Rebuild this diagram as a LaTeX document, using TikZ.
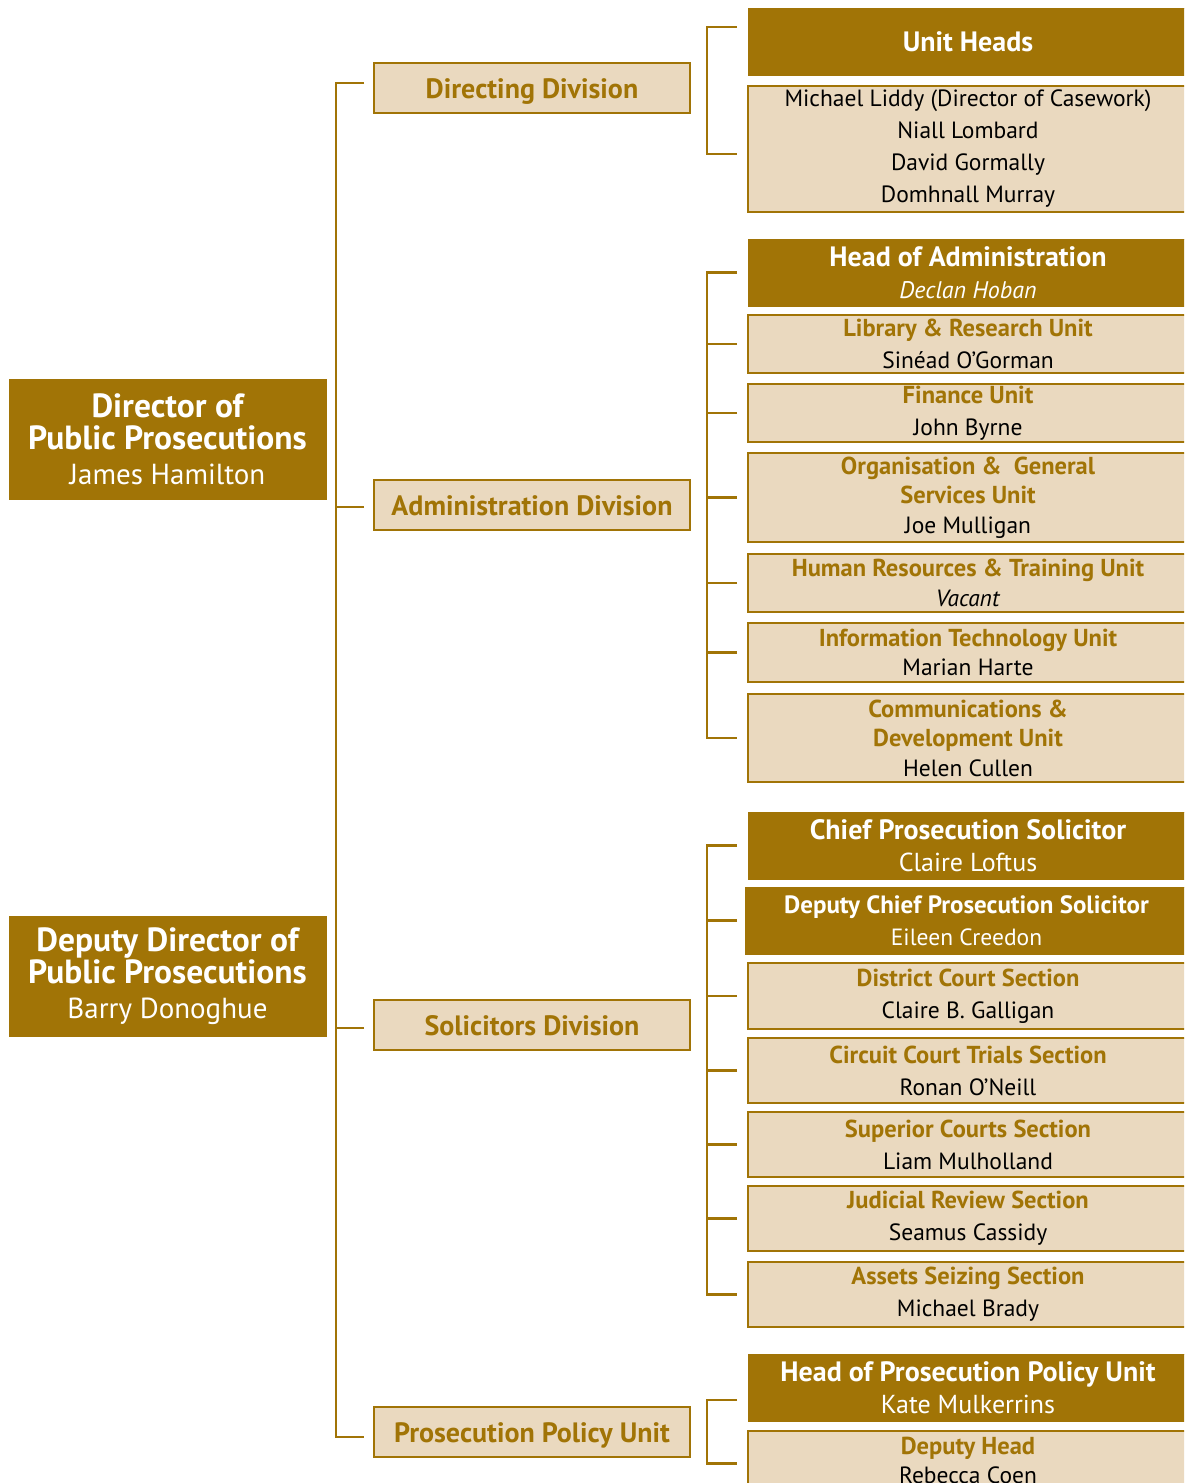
\documentclass[tikz,border=0pt]{standalone}
\usepackage{fontspec}
\setmainfont{PT Sans}
\usetikzlibrary{positioning}
\definecolor{dpgold}{HTML}{A17406}
\definecolor{dpsand}{HTML}{EAD9BF}
\tikzset{
  headbox/.style = {rectangle, fill=dpgold, draw=dpgold, text=white, line width=1pt,
                    align=center, inner sep=0pt, outer sep=0pt, minimum width=440pt,
                    font=\fontsize{26pt}{32pt}\selectfont},
  bigbox/.style  = {headbox, minimum width=317pt, minimum height=120pt,
                    font=\fontsize{29pt}{32pt}\selectfont},
  divbox/.style  = {rectangle, fill=dpsand, draw=dpgold, line width=2.5pt,
                    minimum width=316pt, minimum height=50pt, inner sep=0pt, outer sep=0pt,
                    text height=23pt, text depth=3pt,
                    text=dpgold, font=\fontsize{28pt}{30pt}\selectfont\bfseries},
  unitbox/.style = {rectangle, fill=dpsand, draw=dpgold, line width=2.5pt, align=center,
                    minimum width=440pt, inner sep=0pt, outer sep=0pt,
                    font=\fontsize{23.5pt}{32pt}\selectfont},
  tallbox/.style = {unitbox, font=\fontsize{23.5pt}{29.5pt}\selectfont},
  ln/.style      = {draw=dpgold, line width=2.5pt}
}
\newcommand{\ut}[1]{{\fontsize{24.5pt}{32pt}\selectfont\bfseries\color{dpgold}#1}}
\newcommand{\hdt}[1]{{\fontsize{28pt}{32pt}\selectfont\bfseries #1}}
\newcommand{\bt}[1]{{\fontsize{33.5pt}{32pt}\selectfont\bfseries #1}}

\begin{document}
\begin{tikzpicture}[x=1pt, y=-1pt]
    \useasboundingbox (0,0) rectangle (1184,1483);
    \clip (0,0) rectangle (1184,1483);
    % directors
    \node[bigbox] (dpp) at (167.5,439) {\bt{Director of}\\\bt{Public Prosecutions}\\[3pt]James Hamilton};
    \node[bigbox] (ddpp) at (167.5,976) {\bt{Deputy Director of}\\\bt{Public Prosecutions}\\[3pt]Barry Donoghue};
    % divisions
    \node[divbox] (dirdiv) at (532,88) {Directing Division};
    \node[divbox] (admdiv) at (532,505) {Administration Division};
    \node[divbox] (soldiv) at (532,1025) {Solicitors Division};
    \node[divbox] (poldiv) at (532,1432) {Prosecution Policy Unit};
    % directing division
    \node[headbox, minimum height=67pt] (uh) at (968,41.5) {\hdt{Unit Heads}};
    \node[unitbox, minimum height=126pt] (uhn) at (968,149) {Michael Liddy (Director of Casework)\\Niall Lombard\\David Gormally\\Domhnall Murray};
    % administration division
    \node[headbox, minimum height=67pt] (ha) at (968,272.5) {\hdt{Head of Administration}\\{\fontsize{24pt}{32pt}\selectfont\itshape Declan Hoban}};
    \node[unitbox, minimum height=58pt] (lib) at (968,344) {\ut{Library \& Research Unit}\\Sinéad O’Gorman};
    \node[unitbox, minimum height=58pt] (fin) at (968,413) {\ut{Finance Unit}\\John Byrne};
    \node[tallbox, minimum height=89pt] (org) at (968,497.5) {\ut{Organisation \& \ General}\\\ut{Services Unit}\\Joe Mulligan};
    \node[tallbox, minimum height=58pt] (hr) at (968,583) {\ut{Human Resources \& Training Unit}\\\textit{Vacant}};
    \node[tallbox, minimum height=59pt] (it) at (968,652.5) {\ut{Information Technology Unit}\\Marian Harte};
    \node[tallbox, minimum height=88pt] (com) at (968,738) {\ut{Communications \&}\\\ut{Development Unit}\\Helen Cullen};
    % solicitors division
    \node[headbox, minimum height=67pt] (cps) at (968,845.5) {\hdt{Chief Prosecution Solicitor}\\Claire Loftus};
    \node[headbox, minimum height=67pt, minimum width=443pt, font=\fontsize{23.5pt}{32pt}\selectfont] (dcps) at (966.5,920.5) {\textbf{\fontsize{25pt}{32pt}\selectfont Deputy Chief Prosecution Solicitor}\\Eileen Creedon};
    \node[unitbox, minimum height=66pt] (dcs) at (968,996) {\ut{District Court Section}\\Claire B.\ Galligan};
    \node[unitbox, minimum height=65pt] (cct) at (968,1070.5) {\ut{Circuit Court Trials Section}\\Ronan O’Neill};
    \node[unitbox, minimum height=65pt] (scs) at (968,1144.5) {\ut{Superior Courts Section}\\Liam Mulholland};
    \node[unitbox, minimum height=65pt] (jrs) at (968,1218.5) {\ut{Judicial Review Section}\\Seamus Cassidy};
    \node[unitbox, minimum height=65pt] (ass) at (968,1294.5) {\ut{Assets Seizing Section}\\Michael Brady};
    % prosecution policy unit
    \node[headbox, minimum height=67pt] (hpp) at (968,1387.5) {\hdt{Head of Prosecution Policy Unit}\\Kate Mulkerrins};
    \node[tallbox, minimum height=59pt] (dh) at (968,1460.5) {\ut{Deputy Head}\\Rebecca Coen};
    % brackets
    \draw[ln] ([xshift=-10pt,yshift=5pt]dirdiv.west) -| ([xshift=-38pt,yshift=-5pt]poldiv.west) -- ([xshift=-10pt,yshift=-5pt]poldiv.west);
    \draw[ln] ([xshift=-10pt,yshift=-2pt]admdiv.west) -- ++(-28,0);
    \draw[ln] ([xshift=-10pt,yshift=-3pt]soldiv.west) -- ++(-28,0);
    \draw[ln] ([xshift=-11pt,yshift=14.5pt]uh.west) -| ([xshift=-41pt,yshift=-5pt]uhn.west) -- ([xshift=-11pt,yshift=-5pt]uhn.west);
    \draw[ln] ([xshift=-11pt]ha.west) -| ([xshift=-41pt]com.west) -- ([xshift=-11pt]com.west);
    \draw[ln] ([xshift=-11pt]lib.west) -- ++(-30,0); \draw[ln] ([xshift=-11pt]fin.west) -- ++(-30,0);
    \draw[ln] ([xshift=-11pt]org.west) -- ++(-30,0); \draw[ln] ([xshift=-11pt]hr.west) -- ++(-30,0);
    \draw[ln] ([xshift=-11pt]it.west) -- ++(-30,0);
    \draw[ln] ([xshift=-11pt]cps.west) -| ([xshift=-41pt]ass.west) -- ([xshift=-11pt]ass.west);
    \draw[ln] ([xshift=-8pt]dcps.west) -- ++(-30,0); \draw[ln] ([xshift=-11pt]dcs.west) -- ++(-30,0);
    \draw[ln] ([xshift=-11pt]cct.west) -- ++(-30,0); \draw[ln] ([xshift=-11pt]scs.west) -- ++(-30,0);
    \draw[ln] ([xshift=-11pt]jrs.west) -- ++(-30,0);
    \draw[ln] ([xshift=-11pt,yshift=-12.5pt]hpp.west) -| ([xshift=-41pt,yshift=-3pt]dh.west) -- ([xshift=-11pt,yshift=-3pt]dh.west);
\end{tikzpicture}
\end{document}
